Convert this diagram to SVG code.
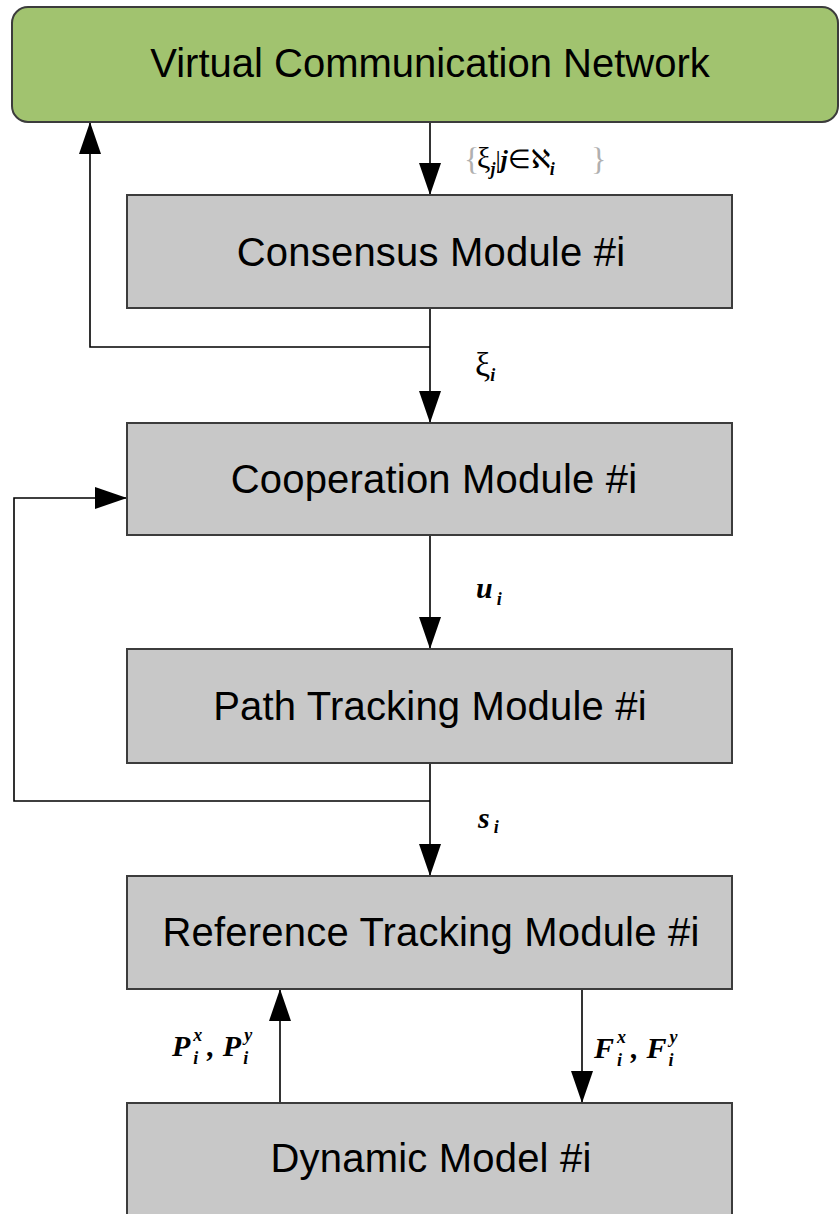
<svg xmlns="http://www.w3.org/2000/svg" width="840" height="1214" viewBox="0 0 840 1214">
<style>
.box{fill:#c8c8c8;stroke:#3c3c3c;stroke-width:2}
.net{fill:#a1c36f;stroke:#3c3c3c;stroke-width:2}
.t{font-family:"Liberation Sans",Arial,sans-serif;font-size:40px;fill:#000;text-anchor:middle;letter-spacing:0.2px}
.line{fill:none;stroke:#000;stroke-width:1.6}
.m{font-family:"Liberation Serif","Times New Roman",serif;font-style:italic;font-weight:bold;font-size:30px;fill:#000}
.s{font-size:18px}
.n{font-weight:normal;font-style:normal}
.g{fill:#b0b0b0;font-weight:normal;font-style:normal;font-size:32px}
</style>
<defs>
<marker id="arr" markerUnits="userSpaceOnUse" viewBox="0 0 32 22" refX="32" refY="11" markerWidth="32" markerHeight="22" orient="auto">
<path d="M0,0 L32,11 L0,22 z" fill="#000"/>
</marker>
</defs>
<g id="connectors">
<path class="line" d="M430,122 V195" marker-end="url(#arr)"/>
<path class="line" d="M430,308 V423" marker-end="url(#arr)"/>
<path class="line" d="M430,347 H90 V122" marker-end="url(#arr)"/>
<path class="line" d="M430,535 V649" marker-end="url(#arr)"/>
<path class="line" d="M430,763 V876" marker-end="url(#arr)"/>
<path class="line" d="M430,801 H14 V498 H127" marker-end="url(#arr)"/>
<path class="line" d="M280,1103 V989" marker-end="url(#arr)"/>
<path class="line" d="M582,989 V1103" marker-end="url(#arr)"/>
</g>
<g id="labels">
<text class="m g" x="464" y="170">{</text>
<text class="m" x="477" y="168"><tspan class="n" font-size="30">ξ</tspan><tspan class="s" dy="7">j</tspan><tspan class="n" dy="-7" font-size="26">|</tspan><tspan font-size="26">j</tspan><tspan class="n" font-size="26">∈ℵ</tspan><tspan class="s" dy="7">i</tspan></text>
<text class="m g" x="591" y="170">}</text>
<text class="m" x="475" y="376"><tspan class="n" font-size="34">ξ</tspan><tspan class="s" dy="5">i</tspan></text>
<text class="m" x="476" y="598">u<tspan class="s" dx="4" dy="7">i</tspan></text>
<text class="m" x="478" y="828">s<tspan class="s" dx="4" dy="5">i</tspan></text>
<text class="m" x="172" y="1056">P<tspan class="s" dx="3" dy="-15">x</tspan><tspan class="s" dx="-9" dy="23">i</tspan><tspan dx="9" dy="-8">,</tspan><tspan dx="8">P</tspan><tspan class="s" dx="3" dy="-15">y</tspan><tspan class="s" dx="-9" dy="23">i</tspan></text>
<text class="m" x="594" y="1058">F<tspan class="s" dx="3" dy="-15">x</tspan><tspan class="s" dx="-9" dy="23">i</tspan><tspan dx="9" dy="-8">,</tspan><tspan dx="8">F</tspan><tspan class="s" dx="3" dy="-15">y</tspan><tspan class="s" dx="-9" dy="23">i</tspan></text>
</g>
<g id="network">
<rect class="net" x="12" y="7" width="826" height="115" rx="16"/>
<text class="t" x="430" y="77" font-size="47" style="letter-spacing:0">Virtual Communication Network</text>
</g>
<g id="consensus">
<rect class="box" x="127" y="195" width="605" height="113"/>
<text class="t" x="431" y="266">Consensus Module #i</text>
</g>
<g id="cooperation">
<rect class="box" x="127" y="423" width="605" height="112"/>
<text class="t" x="434" y="493">Cooperation Module #i</text>
</g>
<g id="pathtracking">
<rect class="box" x="127" y="649" width="605" height="114"/>
<text class="t" x="430" y="720">Path Tracking Module #i</text>
</g>
<g id="reftracking">
<rect class="box" x="127" y="876" width="605" height="113"/>
<text class="t" x="431" y="946">Reference Tracking Module #i</text>
</g>
<g id="dynamic">
<rect class="box" x="127" y="1103" width="605" height="120"/>
<text class="t" x="431" y="1172">Dynamic Model #i</text>
</g>
</svg>
